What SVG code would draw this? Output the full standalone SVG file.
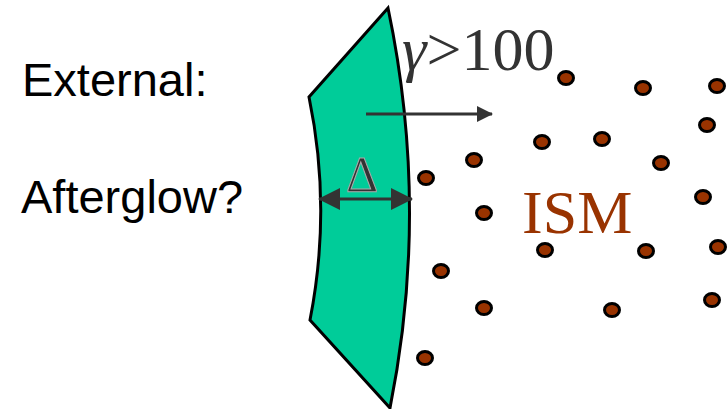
<svg xmlns="http://www.w3.org/2000/svg" width="728" height="409" viewBox="0 0 728 409">
<style>
.lbl{font-family:"Liberation Sans",Arial,sans-serif;font-size:47px;fill:#000}
.dot{fill:#993300;stroke:#000;stroke-width:3}
.arr{stroke:#333;stroke-width:3;fill:none}
.serif{font-family:"Liberation Serif","Times New Roman",serif}
</style>
<defs>
<marker id="ah" viewBox="0 0 16 16" refX="15" refY="8" markerWidth="16" markerHeight="16" markerUnits="userSpaceOnUse" orient="auto-start-reverse">
<path d="M0,0 L16,8 L0,16 Z" fill="#333"/>
</marker>
<marker id="ah2" viewBox="0 0 22 22" refX="21" refY="11" markerWidth="22" markerHeight="22" markerUnits="userSpaceOnUse" orient="auto-start-reverse">
<path d="M0,0 L22,11 L0,22 Z" fill="#333"/>
</marker>
</defs>
<rect width="728" height="409" fill="#fff"/>
<g id="labels">
<text class="lbl" x="22" y="96">External:</text>
<text class="lbl" x="21" y="213">Afterglow?</text>
</g>
<g id="shell">
<path d="M388,8 L309,97 Q332,208 310,320 L390,408 Q430,208 388,8 Z" fill="#00CC99" stroke="#000" stroke-width="3" stroke-linejoin="miter"/>
</g>
<g id="ism">
<ellipse class="dot" cx="566" cy="78" rx="7.5" ry="6.5"/>
<ellipse class="dot" cx="643" cy="88" rx="7.5" ry="6.5"/>
<ellipse class="dot" cx="717" cy="86" rx="7.5" ry="6.5"/>
<ellipse class="dot" cx="707" cy="125" rx="7.5" ry="6.5"/>
<ellipse class="dot" cx="602" cy="139" rx="7.5" ry="6.5"/>
<ellipse class="dot" cx="542" cy="142" rx="7.5" ry="6.5"/>
<ellipse class="dot" cx="661" cy="163" rx="7.5" ry="6.5"/>
<ellipse class="dot" cx="474" cy="160" rx="7.5" ry="6.5"/>
<ellipse class="dot" cx="426" cy="178" rx="7.5" ry="6.5"/>
<ellipse class="dot" cx="484" cy="213" rx="7.5" ry="6.5"/>
<ellipse class="dot" cx="703" cy="197" rx="7.5" ry="6.5"/>
<ellipse class="dot" cx="545" cy="250" rx="7.5" ry="6.5"/>
<ellipse class="dot" cx="646" cy="251" rx="7.5" ry="6.5"/>
<ellipse class="dot" cx="718" cy="247" rx="7.5" ry="6.5"/>
<ellipse class="dot" cx="441" cy="271" rx="7.5" ry="6.5"/>
<ellipse class="dot" cx="484" cy="308" rx="7.5" ry="6.5"/>
<ellipse class="dot" cx="612" cy="310" rx="7.5" ry="6.5"/>
<ellipse class="dot" cx="712" cy="300" rx="7.5" ry="6.5"/>
<ellipse class="dot" cx="425" cy="358" rx="7.5" ry="6.5"/>
<text class="serif" x="522" y="233" font-size="62" fill="#993300">ISM</text>
</g>
<g id="connectors">
<line class="arr" x1="366" y1="114" x2="492" y2="114" marker-end="url(#ah)"/>
<line class="arr" x1="319" y1="199" x2="412" y2="199" marker-start="url(#ah2)" marker-end="url(#ah2)"/>
</g>
<g id="texts">
<text class="serif" x="402" y="70" font-size="62" fill="#333"><tspan font-style="italic">γ</tspan>&gt;100</text>
<text class="serif" x="346" y="191" font-size="50" fill="#333" stroke="#aaa" stroke-width="1">Δ</text>
</g>
</svg>
